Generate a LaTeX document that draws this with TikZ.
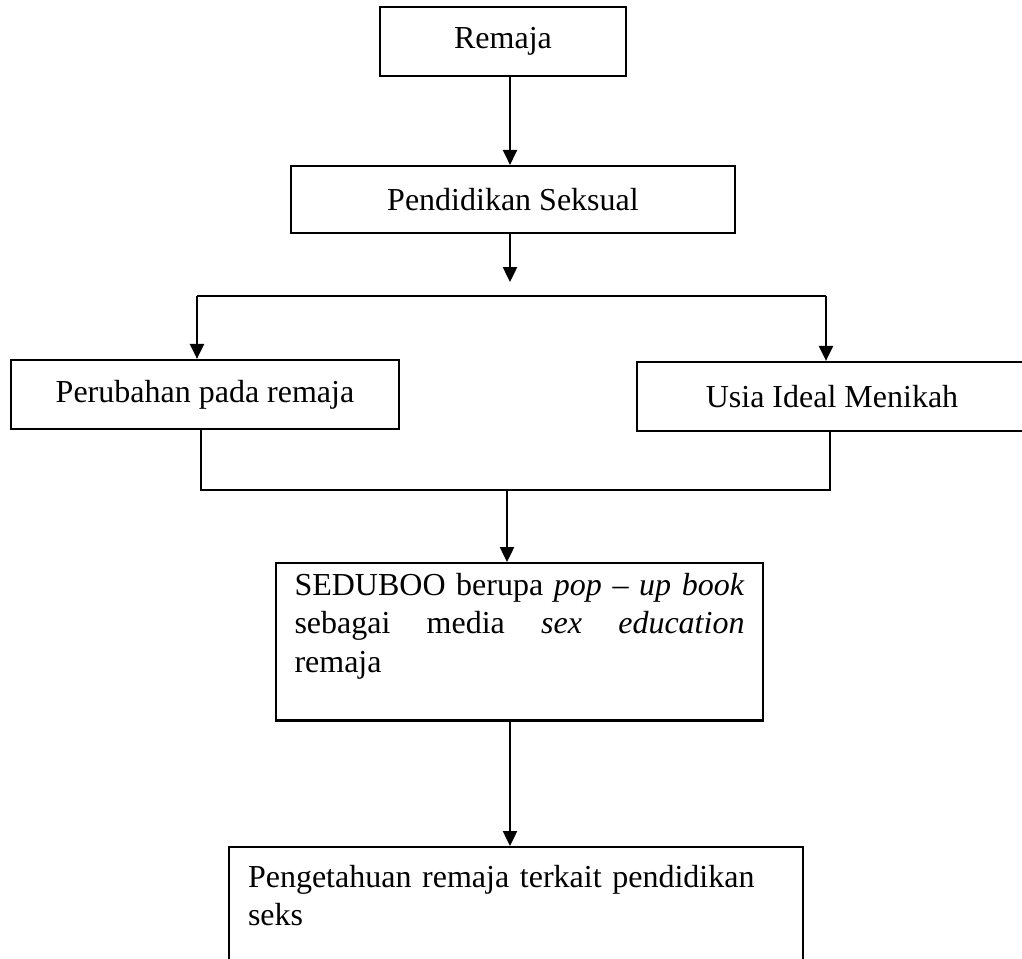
\documentclass[tikz,border=0pt]{standalone}
\usepackage{fontspec}
\setmainfont{Liberation Serif}
\usetikzlibrary{arrows.meta,positioning}
\tikzset{bx/.style={draw,line width=.85pt,minimum height=25.9pt,inner sep=0pt},
 tb/.style={draw,line width=.85pt,inner ysep=3.75pt},
 arr/.style={-{Triangle[length=5.6pt,width=5.3pt]},line width=.65pt},
 ln/.style={line width=.65pt}}

\begin{document}
\begin{tikzpicture}[x=.375pt,y=-.375pt,font=\fontsize{12}{14.4}\selectfont]
\clip (0,0) rectangle (1022,958);
\node[bx,minimum width=92.25pt](rem) at (503,41.5){Remaja};
\node[bx,minimum width=166.5pt,minimum height=25.1pt](pend) at (513,199.5){Pendidikan Seksual};
\node[bx,minimum width=145.5pt](perub) at (205,394.5){Perubahan pada remaja};
\node[bx,minimum width=146.25pt](usia) at (832,396.5){Usia Ideal Menikah};
\node[tb,anchor=north,text width=168.75pt,inner xsep=6.9pt,align=justify,minimum height=58.9pt](sed) at (519.5,562)
 {SEDUBOO berupa \textit{pop -- up book}\linebreak sebagai media \textit{sex education}\linebreak remaja\\\mbox{}};
\node[tb,anchor=north,text width=201pt,inner xsep=7.1pt,inner ysep=6.8pt,align=left](peng) at (516,846)
 {Pengetahuan remaja terkait pendidikan\\seks\\\mbox{}};
% split
\coordinate(sp) at (510,0);\coordinate(t1) at (510,282);
\coordinate(sL) at (197,296);\coordinate(sR) at (826,296);
\draw[arr](rem.south -| sp)--(pend.north -| sp);
\draw[arr](pend.south -| sp)--(t1);
\draw[ln](sL)--(sR);
\draw[arr](sL)--(sL |- perub.north);\draw[arr](sR)--(sR |- usia.north);
% merge
\coordinate(mL) at (201,490);\coordinate(mR) at (830,490);\coordinate(m) at (507,490);
\draw[ln](perub.south -| mL)--(mL)--(mR)--(usia.south -| mR);
\draw[arr](m)--(m |- sed.north);
\draw[arr](sed.south -| sp)--(peng.north -| sp);
\end{tikzpicture}
\end{document}
